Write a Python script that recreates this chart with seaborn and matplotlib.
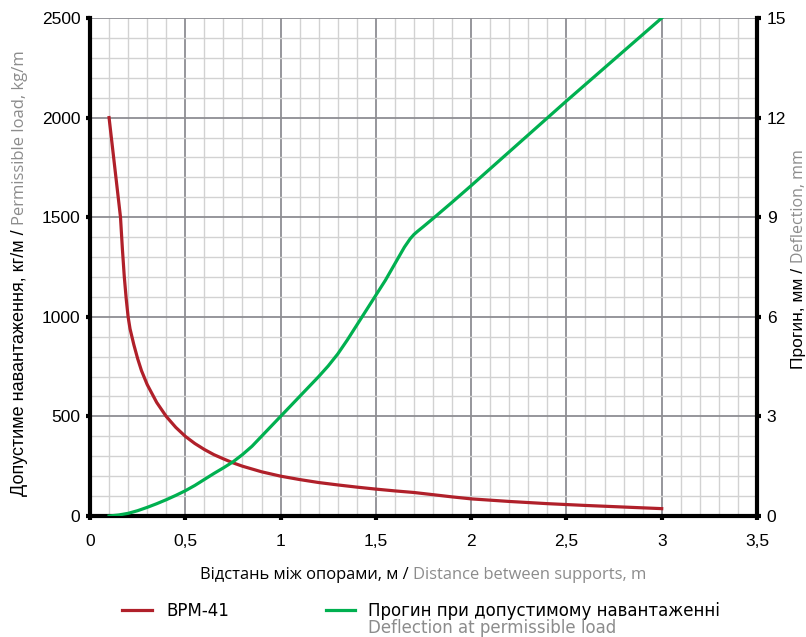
import matplotlib
matplotlib.use("Agg")
import matplotlib.pyplot as plt
import seaborn as sns
from matplotlib.ticker import MultipleLocator, FuncFormatter
from matplotlib.transforms import IdentityTransform

# Permissible load curve (BPM-41), kg/m vs span, m
load_span = [0.1, 0.13, 0.16, 0.17, 0.18, 0.19, 0.2, 0.21, 0.23, 0.25, 0.27, 0.3, 0.35,
             0.4, 0.45, 0.5, 0.55, 0.6, 0.65, 0.7, 0.75, 0.8, 0.9, 1.0, 1.1, 1.2, 1.3,
             1.4, 1.5, 1.6, 1.7, 1.8, 1.9, 2.0, 2.2, 2.4, 2.6, 2.8, 3.0]
load_kg = [2000, 1750, 1500, 1340, 1200, 1090, 1000, 940, 860, 790, 730, 660, 570,
           500, 445, 400, 364, 334, 308, 287, 267, 250, 222, 200, 183, 168, 156,
           145, 135, 126, 118, 107, 96, 86, 73, 62, 53, 45, 37]

# Deflection at permissible load, mm
defl_span = [0.1, 0.15, 0.2, 0.25, 0.3, 0.35, 0.4, 0.45, 0.5, 0.55, 0.6, 0.65, 0.7,
             0.75, 0.8, 0.85, 0.9, 0.95, 1.0, 1.05, 1.1, 1.15, 1.2, 1.25, 1.3, 1.35,
             1.4, 1.45, 1.5, 1.55, 1.6, 1.65, 1.68, 1.7, 1.72, 1.75, 1.8, 1.9, 2.0,
             2.5, 3.0]
defl_mm = [0.0, 0.03, 0.08, 0.16, 0.26, 0.37, 0.49, 0.62, 0.76, 0.92, 1.1, 1.28, 1.45,
           1.63, 1.85, 2.1, 2.4, 2.7, 3.0, 3.3, 3.6, 3.9, 4.2, 4.52, 4.88, 5.3,
           5.75, 6.2, 6.65, 7.1, 7.6, 8.1, 8.35, 8.48, 8.58, 8.72, 8.96, 9.45, 9.95,
           12.5, 15.0]

RED = "#b0202a"
GREEN = "#00b050"
GRAY = "#8c8c8c"

plt.rcParams["font.family"] = ["Liberation Sans", "DejaVu Sans"]

fig = plt.figure(figsize=(8.06, 6.37), dpi=100)
ax = fig.add_axes([90 / 806, 1 - 516 / 637, 667 / 806, 498 / 637])
ax2 = ax.twinx()

sns.lineplot(x=load_span, y=load_kg, ax=ax, color=RED, linewidth=2.3)
sns.lineplot(x=defl_span, y=defl_mm, ax=ax2, color=GREEN, linewidth=2.3)

ax.set_xlim(0, 3.5)
ax.set_ylim(0, 2500)
ax2.set_ylim(0, 15)
ax.xaxis.set_major_locator(MultipleLocator(0.5))
ax.xaxis.set_minor_locator(MultipleLocator(0.1))
ax.yaxis.set_major_locator(MultipleLocator(500))
ax.yaxis.set_minor_locator(MultipleLocator(100))
ax2.yaxis.set_major_locator(MultipleLocator(3))
ax.xaxis.set_major_formatter(FuncFormatter(lambda v, p: f"{v:g}".replace(".", ",")))

ax.grid(which="minor", color="#d2d2d2", linewidth=1.0)
ax.grid(which="major", color="#8e8e93", linewidth=1.3)
ax.set_axisbelow(True)

for a in (ax, ax2):
    a.spines["top"].set_visible(False)
    for s in ("left", "right", "bottom"):
        a.spines[s].set_linewidth(3)
        a.spines[s].set_color("black")
    a.tick_params(which="major", direction="out", length=3, width=3, color="black",
                  labelsize=12.5, pad=4)
    a.tick_params(which="minor", length=0)
    a.set_xlabel("")
    a.set_ylabel("")
ax.spines["right"].set_visible(False)
ax2.spines["left"].set_visible(False)
ax2.spines["bottom"].set_visible(False)
ax.tick_params(axis="x", pad=10)

fig.canvas.draw()
renderer = fig.canvas.get_renderer()


def two_tone(x, y, parts, rotation=0):
    # parts: (text, color, family, size); x, y in pixels from bottom-left
    widths = []
    for s, c, fam, sz in parts:
        t = fig.text(0, 0, s, fontfamily=fam, fontsize=sz, transform=IdentityTransform())
        widths.append(t.get_window_extent(renderer).width)
        t.remove()
    total = sum(widths)
    pos = (x if rotation == 0 else y) - total / 2
    for (s, c, fam, sz), w in zip(parts, widths):
        px, py = (pos, y) if rotation == 0 else (x, pos)
        fig.text(px, py, s, color=c, fontfamily=fam, fontsize=sz, rotation=rotation,
                 rotation_mode="anchor", ha="left", va="baseline",
                 transform=IdentityTransform())
        pos += w


two_tone(423, 58, [("Відстань між опорами, м / ", "black", "Open Sans", 11.9),
                   ("Distance between supports, m", GRAY, "Open Sans", 11.9)])
two_tone(24, 364, [("Допустиме навантаження, кг/м / ", "black", "Liberation Sans", 13),
                   ("Permissible load, kg/m", GRAY, "Open Sans", 12)], rotation=90)
two_tone(803, 378, [("Прогин, мм / ", "black", "Liberation Sans", 12.5),
                    ("Deflection, mm", GRAY, "Open Sans", 11.5)], rotation=90)

# legend
fig.add_artist(plt.Line2D([122 / 806, 152 / 806], [27 / 637, 27 / 637], color=RED, linewidth=2.3))
fig.add_artist(plt.Line2D([326 / 806, 355 / 806], [27 / 637, 27 / 637], color=GREEN, linewidth=2.3))
fig.text(166 / 806, 21 / 637, "ВРМ-41", fontfamily="DejaVu Sans", fontsize=12, va="baseline")
fig.text(368 / 806, 21 / 637, "Прогин при допустимому навантаженні", fontfamily="DejaVu Sans",
         fontsize=12, va="baseline")
fig.text(368 / 806, 4 / 637, "Deflection at permissible load", fontfamily="DejaVu Sans",
         fontsize=12, va="baseline", color=GRAY)

fig.savefig("out.png", dpi=100)
